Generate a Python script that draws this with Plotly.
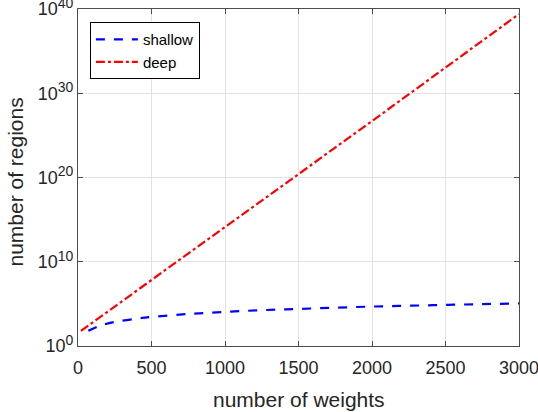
import plotly.graph_objects as go

# data
shallow_x = [70, 150, 250, 400, 500, 750, 1000, 1250, 1500, 1750, 2000, 2250, 2500, 2750, 3000]
shallow_log = [1.8, 2.4, 2.85, 3.25, 3.45, 3.8, 4.05, 4.25, 4.4, 4.55, 4.68, 4.78, 4.88, 4.97, 5.05]
deep_x = [20, 500, 1000, 1500, 2000, 2500, 3000]
deep_log = [1.8, 7.8, 14.1, 20.4, 26.7, 33.0, 39.4]

shallow_y = [10 ** v for v in shallow_log]
deep_y = [10 ** v for v in deep_log]

xticks = [0, 500, 1000, 1500, 2000, 2500, 3000]
ytick_vals = [1, 1e10, 1e20, 1e30, 1e40]
ytick_exp = ["0", "10", "20", "30", "40"]
ytick_text = ["10<sup><span style='font-size:14px'>%s</span></sup>" % e for e in ytick_exp]

fig = go.Figure()
fig.add_trace(go.Scatter(x=shallow_x, y=shallow_y, mode="lines", name="shallow",
                         line=dict(color="#0000ff", width=2.2, dash="dash", shape="spline")))
fig.add_trace(go.Scatter(x=deep_x, y=deep_y, mode="lines", name="deep",
                         line=dict(color="#ff0000", width=2.2, dash="dashdot")))

font_color = "#262626"
fig.update_layout(
    width=538, height=412,
    margin=dict(l=78, r=19, t=9, b=66),
    paper_bgcolor="white", plot_bgcolor="white",
    font=dict(family="Liberation Sans, Arial, sans-serif", size=18, color=font_color),
    legend=dict(x=0.027, y=0.961, xanchor="left", yanchor="top",
                bordercolor="black", borderwidth=1, bgcolor="white",
                font=dict(size=15, color="black"), tracegroupgap=0,
                itemwidth=42),
    showlegend=True,
    annotations=[
        dict(text="number of weights", xref="paper", yref="paper", x=0.5, y=-0.160,
             xanchor="center", yanchor="middle", showarrow=False,
             font=dict(size=21, color=font_color)),
        dict(text="number of regions", xref="paper", yref="paper", x=-0.1406, y=0.488,
             xanchor="center", yanchor="middle", showarrow=False, textangle=-90,
             font=dict(size=21, color=font_color)),
    ],
)
fig.update_xaxes(
    range=[0, 3000], tickvals=xticks, ticktext=[str(v) for v in xticks],
    showgrid=True, gridcolor="#e3e3e3", gridwidth=1,
    showline=True, linecolor="#4d4d4d", linewidth=1, mirror="ticks",
    ticks="inside", ticklen=5, tickcolor="#4d4d4d",
    zeroline=False, automargin=False, ticklabeloverflow="allow",
    ticklabelstandoff=5,
    tickfont=dict(size=18, color=font_color),
)
fig.update_yaxes(
    type="log", range=[0, 40.0005], tickvals=ytick_vals, ticktext=ytick_text,
    showgrid=True, gridcolor="#e3e3e3", gridwidth=1,
    showline=True, linecolor="#4d4d4d", linewidth=1, mirror="ticks",
    ticks="inside", ticklen=5, tickcolor="#4d4d4d",
    zeroline=False, automargin=False, ticklabeloverflow="allow",
    tickfont=dict(size=18, color=font_color),
)

fig.write_html("out.html", config={"displayModeBar": False},
               post_script="document.body.style.margin='0';document.body.style.overflow='hidden';")
